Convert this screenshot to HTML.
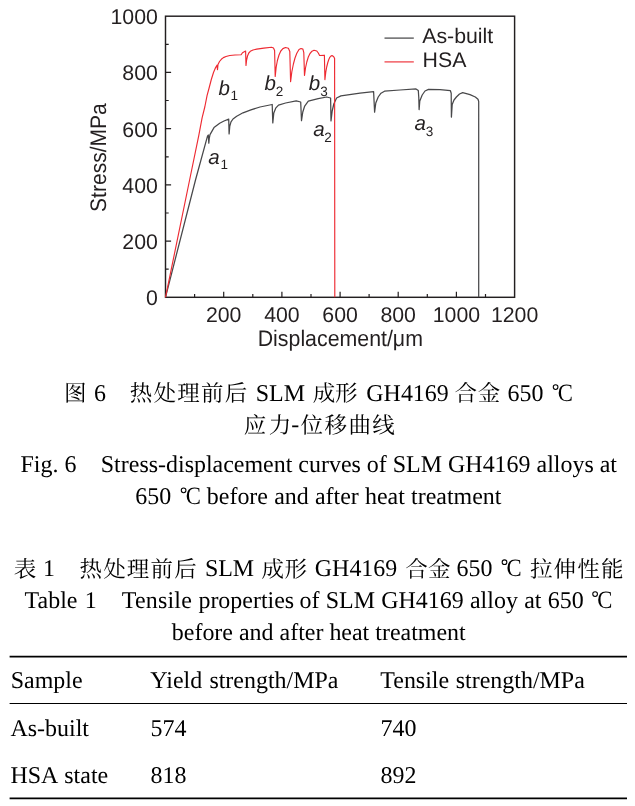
<!DOCTYPE html>
<html><head><meta charset="utf-8"><title>Fig. 6 / Table 1</title>
<style>
html,body{margin:0;padding:0;background:#fff}
body{width:635px;height:806px;position:relative;overflow:hidden;font-family:"Liberation Serif",serif}
svg{will-change:transform;text-rendering:geometricPrecision}
</style></head><body>
<svg width="635" height="806" viewBox="0 0 635 806" style="position:absolute;left:0;top:0">
<g fill="none" stroke="#231f20" stroke-width="1.45">
<rect x="165.5" y="16.2" width="349.1" height="281.1"/>
<path d="M194.6 297.3v-3.2M223.7 297.3v-5.6M252.8 297.3v-3.2M281.9 297.3v-5.6M311.0 297.3v-3.2M340.1 297.3v-5.6M369.1 297.3v-3.2M398.2 297.3v-5.6M427.3 297.3v-3.2M456.4 297.3v-5.6M485.5 297.3v-3.2M165.5 269.2h3.2M165.5 241.1h5.6M165.5 213.0h3.2M165.5 184.9h5.6M165.5 156.8h3.2M165.5 128.6h5.6M165.5 100.5h3.2M165.5 72.4h5.6M165.5 44.3h3.2" stroke-width="1.2"/>
</g>
<polyline points="165.5,297.3 195.5,180.0 207.5,136.1 208.3,135.0 208.8,143.1 209.3,138.0 210.0,134.6 214.0,127.6 219.7,123.3 224.0,121.0 228.7,119.1 229.1,133.9 229.8,126.0 231.0,121.9 233.0,119.0 236.7,116.2 243.0,112.8 250.9,109.8 260.0,107.0 272.2,104.5 272.8,122.9 273.8,113.0 275.7,108.2 278.5,105.1 285.6,103.0 296.2,100.9 300.7,102.0 301.5,120.7 302.8,112.0 304.7,106.0 308.3,101.2 318.2,98.7 326.7,97.0 330.6,98.0 331.0,120.9 332.2,111.0 333.8,104.0 336.6,98.0 340.9,95.9 360.0,93.1 373.6,91.6 374.6,112.1 375.8,103.0 378.2,97.0 381.0,93.2 384.5,91.2 400.0,90.0 416.0,88.9 418.3,90.5 418.8,98.0 419.1,109.6 419.8,101.0 422.2,95.0 425.0,91.0 428.5,89.4 440.0,89.6 450.4,90.7 451.2,93.2 451.4,117.1 452.2,104.5 454.0,100.0 456.4,97.0 459.5,94.0 462.7,92.7 470.0,94.6 475.3,97.0 478.0,99.3 478.7,101.5 478.7,297.3" fill="none" stroke="#48484a" stroke-width="1.25" stroke-linejoin="round"/>
<polyline points="165.5,297.3 189.6,180.0 198.8,135.4 202.1,117.9 204.8,107.0 207.1,95.4 209.1,88.0 211.3,79.5 213.5,72.5 215.6,67.6 217.0,65.2 217.5,69.7 218.0,64.4 219.5,61.5 221.3,59.3 223.4,57.6 226.0,56.5 229.8,55.5 235.0,55.0 241.1,54.8 242.5,52.7 245.6,51.0 246.0,65.4 246.6,60.0 247.5,56.0 248.8,53.0 250.3,51.3 253.0,50.0 256.7,49.1 263.8,48.1 271.6,47.3 273.5,48.0 274.6,50.5 275.2,76.5 276.2,67.0 277.4,60.5 279.0,55.0 280.8,51.0 282.9,48.6 285.5,47.5 288.4,48.2 289.8,51.5 290.6,81.7 291.8,72.0 293.4,64.0 295.0,58.0 296.8,53.2 299.0,49.5 301.0,48.5 302.9,49.1 303.8,52.7 304.5,75.4 305.5,68.0 306.8,62.0 308.3,57.0 310.0,53.5 312.0,51.2 314.0,50.3 316.8,51.0 318.3,53.0 319.6,55.5 324.4,55.2 324.9,79.6 325.8,72.0 326.7,67.0 327.8,62.5 328.8,59.5 329.8,57.3 330.9,56.0 332.0,55.6 333.1,56.2 334.0,57.2 334.6,58.6 334.8,297.3" fill="none" stroke="#ee2a32" stroke-width="1.15" stroke-linejoin="round"/>
<path d="M384.5 38.1H413.8" stroke="#48484a" stroke-width="1.25"/>
<path d="M384.5 61.9H413.8" stroke="#ef3e45" stroke-width="1.25"/>
<g font-family="Liberation Sans, sans-serif" fill="#231f20" font-size="21.3">
<text transform="translate(422.2 43.0) scale(1.01 1)" font-size="21.1">As-built</text>
<text transform="translate(422.6 66.5) scale(1.01 1)" font-size="21.1">HSA</text>
<text transform="translate(157.9 305.3) scale(1 1)" text-anchor="end">0</text>
<text transform="translate(157.9 249.1) scale(1 1)" text-anchor="end">200</text>
<text transform="translate(157.9 192.9) scale(1 1)" text-anchor="end">400</text>
<text transform="translate(157.9 136.6) scale(1 1)" text-anchor="end">600</text>
<text transform="translate(157.9 80.4) scale(1 1)" text-anchor="end">800</text>
<text transform="translate(157.9 24.2) scale(1 1)" text-anchor="end">1000</text>
<text transform="translate(223.7 321.9) scale(1 1)" text-anchor="middle">200</text>
<text transform="translate(281.9 321.9) scale(1 1)" text-anchor="middle">400</text>
<text transform="translate(340.1 321.9) scale(1 1)" text-anchor="middle">600</text>
<text transform="translate(398.2 321.9) scale(1 1)" text-anchor="middle">800</text>
<text transform="translate(456.4 321.9) scale(1 1)" text-anchor="middle">1000</text>
<text transform="translate(514.6 321.9) scale(1 1)" text-anchor="middle">1200</text>
<text transform="translate(340.3 346) scale(0.948 1)" text-anchor="middle" font-size="22.5">Displacement/μm</text>
<text transform="translate(105.6 157.6) rotate(-90) scale(0.934 1)" text-anchor="middle" font-size="22.5">Stress/MPa</text>
<text x="208.3" y="163.7" font-style="italic" font-size="20.5">a</text><text x="220.5" y="168.7" font-size="13.5">1</text>
<text x="218.5" y="95.2" font-style="italic" font-size="20.5">b</text><text x="230.5" y="100.2" font-size="13.5">1</text>
<text x="264.6" y="90.2" font-style="italic" font-size="20.5">b</text><text x="275.8" y="95.9" font-size="13.5">2</text>
<text x="308.8" y="90.2" font-style="italic" font-size="20.5">b</text><text x="320.3" y="95.9" font-size="13.5">3</text>
<text x="313.2" y="136" font-style="italic" font-size="20.5">a</text><text x="324.2" y="141.6" font-size="13.5">2</text>
<text x="414.5" y="130.2" font-style="italic" font-size="20.5">a</text><text x="425.8" y="135.5" font-size="13.5">3</text>
</g>
<g font-family="'Liberation Serif', 'Noto Serif CJK SC', serif" font-size="24.0" fill="#000">
<text x="75.39" y="401.40" font-size="22.54" text-anchor="middle">图</text>
<text transform="translate(94.00 400.60) scale(0.998 1)" >6</text>
<text x="141.08" y="401.40" font-size="22.54" text-anchor="middle">热</text>
<text x="164.85" y="401.40" font-size="22.54" text-anchor="middle">处</text>
<text x="188.61" y="401.40" font-size="22.54" text-anchor="middle">理</text>
<text x="212.38" y="401.40" font-size="22.54" text-anchor="middle">前</text>
<text x="236.14" y="401.40" font-size="22.54" text-anchor="middle">后</text>
<text transform="translate(255.80 400.60) scale(0.998 1)" >SLM</text>
<text x="324.04" y="401.40" font-size="22.54" text-anchor="middle">成</text>
<text x="346.23" y="401.40" font-size="22.54" text-anchor="middle">形</text>
<text transform="translate(366.30 400.60) scale(0.998 1)" >GH4169</text>
<text x="465.75" y="401.40" font-size="22.54" text-anchor="middle">合</text>
<text x="488.94" y="401.40" font-size="22.54" text-anchor="middle">金</text>
<text transform="translate(507.60 400.60) scale(0.998 1)" >650</text>
<circle cx="555.60" cy="387.10" r="2.35" fill="none" stroke="#000" stroke-width="1.05"/>
<text transform="translate(557.70 400.60) scale(0.93 1.02)" font-size="24.4">C</text>
<text x="255.11" y="432.80" font-size="22.54" text-anchor="middle">应</text>
<text x="280.03" y="432.80" font-size="22.54" text-anchor="middle">力</text>
<text transform="translate(291.30 432.00) scale(0.998 1)" >-</text>
<text x="311.70" y="432.80" font-size="22.54" text-anchor="middle">位</text>
<text x="335.68" y="432.80" font-size="22.54" text-anchor="middle">移</text>
<text x="359.66" y="432.80" font-size="22.54" text-anchor="middle">曲</text>
<text x="383.64" y="432.80" font-size="22.54" text-anchor="middle">线</text>
<text transform="translate(20.50 472.20) scale(0.998 1)" >Fig. 6</text>
<text transform="translate(100.80 472.20) scale(0.998 1)" >Stress-displacement curves of SLM GH4169 alloys at</text>
<text transform="translate(135.30 503.80) scale(0.998 1)" >650</text>
<circle cx="183.60" cy="490.30" r="2.35" fill="none" stroke="#000" stroke-width="1.05"/>
<text transform="translate(185.70 503.80) scale(0.93 1.02)" font-size="24.4">C</text>
<text transform="translate(206.80 503.80) scale(0.998 1)" style="word-spacing:0.2px">before and after heat treatment</text>
<text x="25.12" y="576.50" font-size="22.54" text-anchor="middle">表</text>
<text transform="translate(43.00 575.70) scale(0.998 1)" >1</text>
<text x="90.68" y="576.50" font-size="22.54" text-anchor="middle">热</text>
<text x="114.40" y="576.50" font-size="22.54" text-anchor="middle">处</text>
<text x="138.11" y="576.50" font-size="22.54" text-anchor="middle">理</text>
<text x="161.83" y="576.50" font-size="22.54" text-anchor="middle">前</text>
<text x="185.54" y="576.50" font-size="22.54" text-anchor="middle">后</text>
<text transform="translate(204.90 575.70) scale(0.998 1)" >SLM</text>
<text x="272.84" y="576.50" font-size="22.54" text-anchor="middle">成</text>
<text x="295.83" y="576.50" font-size="22.54" text-anchor="middle">形</text>
<text transform="translate(314.80 575.70) scale(0.998 1)" >GH4169</text>
<text x="416.55" y="576.50" font-size="22.54" text-anchor="middle">合</text>
<text x="439.34" y="576.50" font-size="22.54" text-anchor="middle">金</text>
<text transform="translate(456.60 575.70) scale(0.998 1)" >650</text>
<circle cx="504.50" cy="562.20" r="2.35" fill="none" stroke="#000" stroke-width="1.05"/>
<text transform="translate(506.60 575.70) scale(0.93 1.02)" font-size="24.4">C</text>
<text x="541.19" y="576.50" font-size="22.54" text-anchor="middle">拉</text>
<text x="564.87" y="576.50" font-size="22.54" text-anchor="middle">伸</text>
<text x="588.55" y="576.50" font-size="22.54" text-anchor="middle">性</text>
<text x="612.24" y="576.50" font-size="22.54" text-anchor="middle">能</text>
<text transform="translate(24.60 607.60) scale(0.998 1)" style="word-spacing:1.2px">Table 1</text>
<text transform="translate(121.80 607.60) scale(0.998 1)" style="letter-spacing:0.2px">Tensile</text>
<text transform="translate(198.40 607.60) scale(0.998 1)" >properties</text>
<text transform="translate(299.50 607.60) scale(0.998 1)" style="word-spacing:0.3px">of SLM</text>
<text transform="translate(381.20 607.60) scale(0.998 1)" style="word-spacing:0.3px">GH4169 alloy</text>
<text transform="translate(524.20 607.60) scale(0.998 1)" style="word-spacing:0.3px">at 650</text>
<circle cx="595.10" cy="594.10" r="2.35" fill="none" stroke="#000" stroke-width="1.05"/>
<text transform="translate(597.20 607.60) scale(0.93 1.02)" font-size="24.4">C</text>
<text transform="translate(171.80 639.60) scale(0.998 1)" >before and after heat treatment</text>
<text transform="translate(10.70 688.40) scale(0.998 1)" >Sample</text>
<text transform="translate(150.30 688.40) scale(0.998 1)" style="word-spacing:1.2px">Yield strength/MPa</text>
<text transform="translate(380.30 688.40) scale(0.998 1)" style="word-spacing:0.6px">Tensile strength/MPa</text>
<text transform="translate(10.50 736.20) scale(0.998 1)" >As-built</text>
<text transform="translate(150.60 736.20) scale(0.998 1)" >574</text>
<text transform="translate(380.60 736.20) scale(0.998 1)" >740</text>
<text transform="translate(10.50 783.20) scale(0.998 1)" style="word-spacing:1.2px">HSA state</text>
<text transform="translate(150.60 783.20) scale(0.998 1)" >818</text>
<text transform="translate(380.60 783.20) scale(0.998 1)" >892</text>
</g>
<path d="M9.6 656.6H627M9.6 798.3H627" stroke="#000" stroke-width="1.7"/>
<path d="M9.6 703.5H627" stroke="#000" stroke-width="1"/>
</svg>
</body></html>
